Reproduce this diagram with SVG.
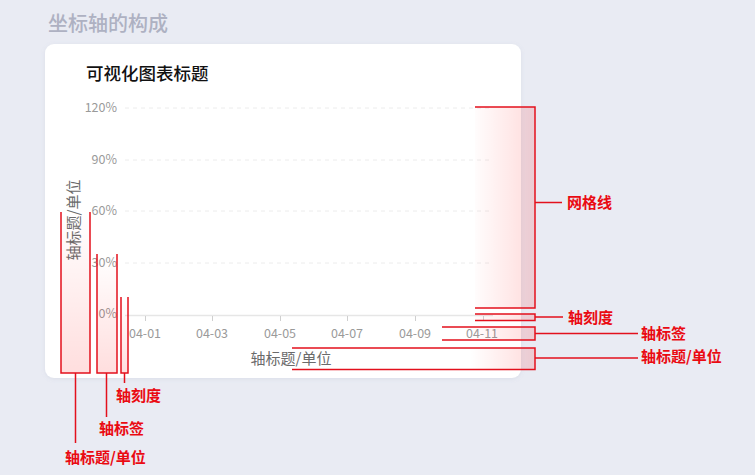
<svg xmlns="http://www.w3.org/2000/svg" width="755" height="475" viewBox="0 0 755 475">
<style>
text{font-family:"Noto Sans CJK SC","Liberation Sans",sans-serif}
.ytick{font-size:12.5px;fill:#9a9a9a;text-anchor:end}
.xtick{font-size:12.5px;fill:#9a9a9a;text-anchor:middle}
.axt{font-size:15px;fill:#6b6b6b}
.grid{stroke:#ececec;stroke-width:1;stroke-dasharray:4 4;fill:none}
.ann{stroke:#e3101c;stroke-width:1.5;fill:none}
.lbl{font-size:15px;fill:#ea0a12;font-weight:700}
</style>
<defs>
<linearGradient id="gv" x1="0" y1="0" x2="0" y2="1">
<stop offset="0" stop-color="#ff0000" stop-opacity="0"/>
<stop offset="1" stop-color="#ff0000" stop-opacity="0.13"/>
</linearGradient>
<linearGradient id="gh" gradientUnits="userSpaceOnUse" x1="470" y1="0" x2="530" y2="0">
<stop offset="0" stop-color="#ff0000" stop-opacity="0"/>
<stop offset="1" stop-color="#ff0000" stop-opacity="0.13"/>
</linearGradient>
<filter id="sh" x="-5%" y="-5%" width="110%" height="110%">
<feDropShadow dx="0" dy="1" stdDeviation="2" flood-color="#8890a8" flood-opacity="0.15"/>
</filter>
</defs>
<rect width="755" height="475" fill="#e9ebf3"/>
<text x="48" y="31" style="font-size:20px;fill:#aeb1c2;font-weight:500">坐标轴的构成</text>
<g id="card">
<rect x="45" y="44" width="476" height="334" rx="9" fill="#ffffff" filter="url(#sh)"/>
<text x="86" y="80" style="font-size:17.5px;fill:#111;font-weight:500">可视化图表标题</text>
</g>
<g id="chart">
<path class="grid" d="M125 108H493M125 160H493M125 211H493M125 263H493"/>
<path d="M125 315.5H493" stroke="#e6e6e6" stroke-width="1.5"/>
<path d="M145.5 316V321M212.5 316V321M280.5 316V321M347.5 316V321M415.5 316V321M483.5 316V321" stroke="#cfcfcf" stroke-width="1"/>
<text class="ytick" x="117" y="112">120%</text>
<text class="ytick" x="117" y="164">90%</text>
<text class="ytick" x="117" y="215">60%</text>
<text class="ytick" x="117" y="267">30%</text>
<text class="ytick" x="117" y="318">0%</text>
<text class="xtick" x="145" y="338">04-01</text>
<text class="xtick" x="212" y="338">04-03</text>
<text class="xtick" x="280" y="338">04-05</text>
<text class="xtick" x="347" y="338">04-07</text>
<text class="xtick" x="415" y="338">04-09</text>
<text class="xtick" x="482" y="338">04-11</text>
<text class="axt" x="291" y="364" text-anchor="middle">轴标题/单位</text>
<text class="axt" transform="translate(79 220) rotate(-90)" text-anchor="middle">轴标题/单位</text>
</g>
<g id="ann-left-title">
<path d="M61 212V373H90V212Z" fill="url(#gv)" stroke="none"/>
<path class="ann" d="M61 212V373H90V212M75.5 373V443"/>
<text class="lbl" x="65" y="463">轴标题/单位</text>
</g>
<g id="ann-left-label">
<path d="M97 254V373H117V254Z" fill="url(#gv)" stroke="none"/>
<path class="ann" d="M97 254V373H117V254M106.5 373V417"/>
<text class="lbl" x="99" y="434">轴标签</text>
</g>
<g id="ann-left-tick">
<path d="M121 297V373H128V297Z" fill="url(#gv)" stroke="none"/>
<path class="ann" d="M121 297V373H128V297M124.5 373V383"/>
<text class="lbl" x="116" y="401">轴刻度</text>
</g>
<g id="ann-grid">
<path d="M475 107H535V308H475Z" fill="url(#gh)" stroke="none"/>
<path class="ann" d="M475 107H535V308H475M535 202.5H562"/>
<text class="lbl" x="567" y="208">网格线</text>
</g>
<g id="ann-right-tick">
<path d="M475 314H535V320.5H475Z" fill="url(#gh)" stroke="none"/>
<path class="ann" d="M475 314H535V320.5H475M535 317H563"/>
<text class="lbl" x="568" y="323">轴刻度</text>
</g>
<g id="ann-right-label">
<path d="M442 327H535V340H442Z" fill="url(#gh)" stroke="none"/>
<path class="ann" d="M442 327H535V340H442M535 333.5H638"/>
<text class="lbl" x="641" y="339">轴标签</text>
</g>
<g id="ann-right-title">
<path d="M292 348H535V369.5H292Z" fill="url(#gh)" stroke="none"/>
<path class="ann" d="M292 348H535V369.5H292M535 358H638"/>
<text class="lbl" x="641" y="362">轴标题/单位</text>
</g>
</svg>
